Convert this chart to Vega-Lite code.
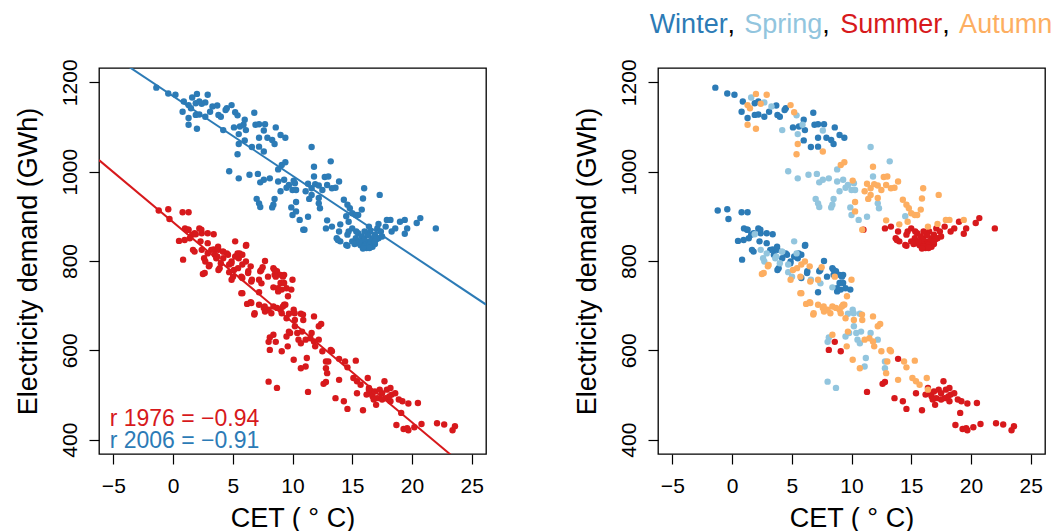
{
"$schema":"https://vega.github.io/schema/vega-lite/v6.json",
"background":"white",
"padding":{"left":13,"top":10,"right":2,"bottom":2},
"config":{
 "font":"Liberation Sans",
 "view":{"stroke":"#000","strokeWidth":1.3},
 "axis":{"domain":false,"grid":false,"ticks":true,"tickColor":"#000","tickSize":10,"tickWidth":1.2,"labelFont":"Liberation Sans","labelFontSize":21,"labelColor":"#000","titleFont":"Liberation Sans","titleFontSize":27,"titleFontWeight":"normal","titleColor":"#000"}
},
"datasets":{
"pts":[
{"cet":-1.2,"gwh":913,"year":"1976","season":"Winter"},{"cet":-0.4,"gwh":916,"year":"1976","season":"Winter"},{"cet":-0.3,"gwh":894,"year":"1976","season":"Winter"},{"cet":0.8,"gwh":909,"year":"1976","season":"Winter"},{"cet":1.3,"gwh":909,"year":"1976","season":"Winter"},{"cet":1.0,"gwh":873,"year":"1976","season":"Winter"},{"cet":1.3,"gwh":870,"year":"1976","season":"Winter"},{"cet":1.6,"gwh":859,"year":"1976","season":"Winter"},{"cet":2.2,"gwh":873,"year":"1976","season":"Winter"},{"cet":2.4,"gwh":862,"year":"1976","season":"Winter"},{"cet":2.9,"gwh":862,"year":"1976","season":"Winter"},{"cet":3.4,"gwh":860,"year":"1976","season":"Winter"},{"cet":0.5,"gwh":845,"year":"1976","season":"Winter"},{"cet":1.4,"gwh":851,"year":"1976","season":"Winter"},{"cet":2.3,"gwh":844,"year":"1976","season":"Winter"},{"cet":2.9,"gwh":840,"year":"1976","season":"Winter"},{"cet":1.8,"gwh":821,"year":"1976","season":"Winter"},{"cet":3.4,"gwh":826,"year":"1976","season":"Winter"},{"cet":3.8,"gwh":825,"year":"1976","season":"Winter"},{"cet":3.5,"gwh":814,"year":"1976","season":"Winter"},{"cet":4.5,"gwh":817,"year":"1976","season":"Winter"},{"cet":5.8,"gwh":814,"year":"1976","season":"Winter"},{"cet":6.1,"gwh":834,"year":"1976","season":"Winter"},{"cet":4.2,"gwh":806,"year":"1976","season":"Winter"},{"cet":4.9,"gwh":799,"year":"1976","season":"Winter"},{"cet":5.2,"gwh":810,"year":"1976","season":"Winter"},{"cet":5.5,"gwh":806,"year":"1976","season":"Winter"},{"cet":3.8,"gwh":780,"year":"1976","season":"Winter"},{"cet":5.8,"gwh":762,"year":"1976","season":"Winter"},{"cet":6.3,"gwh":777,"year":"1976","season":"Winter"},{"cet":7.3,"gwh":777,"year":"1976","season":"Winter"},{"cet":7.7,"gwh":800,"year":"1976","season":"Winter"},{"cet":7.2,"gwh":730,"year":"1976","season":"Winter"},{"cet":8.4,"gwh":784,"year":"1976","season":"Winter"},{"cet":8.5,"gwh":769,"year":"1976","season":"Winter"},{"cet":8.7,"gwh":777,"year":"1976","season":"Winter"},{"cet":9.0,"gwh":769,"year":"1976","season":"Winter"},{"cet":9.3,"gwh":769,"year":"1976","season":"Winter"},{"cet":9.0,"gwh":751,"year":"1976","season":"Winter"},{"cet":9.3,"gwh":751,"year":"1976","season":"Winter"},{"cet":8.8,"gwh":732,"year":"1976","season":"Winter"},{"cet":9.1,"gwh":736,"year":"1976","season":"Winter"},{"cet":9.5,"gwh":739,"year":"1976","season":"Winter"},{"cet":9.9,"gwh":736,"year":"1976","season":"Winter"},
{"cet":3.2,"gwh":825,"year":"1976","season":"Winter"},{"cet":3.77,"gwh":832,"year":"1976","season":"Winter"},{"cet":4.6,"gwh":814,"year":"1976","season":"Winter"},{"cet":3.9,"gwh":784,"year":"1976","season":"Winter"},{"cet":4.88,"gwh":795,"year":"1976","season":"Winter"},{"cet":6.28,"gwh":773,"year":"1976","season":"Winter"},{"cet":5.57,"gwh":817,"year":"1976","season":"Winter"},{"cet":6.13,"gwh":836,"year":"1976","season":"Winter"},{"cet":7.39,"gwh":780,"year":"1976","season":"Winter"},{"cet":7.95,"gwh":765,"year":"1976","season":"Winter"},{"cet":8.5,"gwh":780,"year":"1976","season":"Winter"},{"cet":9.2,"gwh":765,"year":"1976","season":"Winter"},{"cet":8.79,"gwh":739,"year":"1976","season":"Winter"},{"cet":1.81,"gwh":862,"year":"1976","season":"Winter"},{"cet":1.26,"gwh":870,"year":"1976","season":"Winter"},{"cet":2.37,"gwh":870,"year":"1976","season":"Winter"},{"cet":0.97,"gwh":847,"year":"1976","season":"Winter"},{"cet":1.67,"gwh":825,"year":"1976","season":"Winter"},{"cet":0.84,"gwh":803,"year":"1976","season":"Winter"},
{"cet":1.9,"gwh":860,"year":"1976","season":"Spring"},{"cet":2.4,"gwh":825,"year":"1976","season":"Spring"},{"cet":2.9,"gwh":817,"year":"1976","season":"Spring"},{"cet":4.2,"gwh":821,"year":"1976","season":"Spring"},{"cet":5.2,"gwh":844,"year":"1976","season":"Spring"},{"cet":5.4,"gwh":817,"year":"1976","season":"Spring"},{"cet":2.6,"gwh":806,"year":"1976","season":"Spring"},{"cet":2.7,"gwh":799,"year":"1976","season":"Spring"},{"cet":3.7,"gwh":810,"year":"1976","season":"Spring"},{"cet":4.0,"gwh":795,"year":"1976","season":"Spring"},{"cet":4.7,"gwh":792,"year":"1976","season":"Spring"},{"cet":4.7,"gwh":775,"year":"1976","season":"Spring"},{"cet":6.6,"gwh":758,"year":"1976","season":"Spring"},{"cet":7.4,"gwh":750,"year":"1976","season":"Spring"},{"cet":8.4,"gwh":741,"year":"1976","season":"Spring"},{"cet":9.7,"gwh":682,"year":"1976","season":"Spring"},{"cet":10.1,"gwh":691,"year":"1976","season":"Spring"},{"cet":10.2,"gwh":654,"year":"1976","season":"Spring"},{"cet":10.7,"gwh":682,"year":"1976","season":"Spring"},{"cet":8.1,"gwh":629,"year":"1976","season":"Spring"},{"cet":8.0,"gwh":619,"year":"1976","season":"Spring"},{"cet":9.5,"gwh":631,"year":"1976","season":"Spring"},{"cet":9.8,"gwh":639,"year":"1976","season":"Spring"},{"cet":10.4,"gwh":639,"year":"1976","season":"Spring"},{"cet":10.5,"gwh":624,"year":"1976","season":"Spring"},{"cet":10.7,"gwh":616,"year":"1976","season":"Spring"},{"cet":10.8,"gwh":642,"year":"1976","season":"Spring"},{"cet":11.6,"gwh":639,"year":"1976","season":"Spring"},{"cet":12.2,"gwh":624,"year":"1976","season":"Spring"},{"cet":11.1,"gwh":564,"year":"1976","season":"Spring"},{"cet":11.2,"gwh":583,"year":"1976","season":"Spring"},{"cet":12.8,"gwh":575,"year":"1976","season":"Spring"},{"cet":12.8,"gwh":560,"year":"1976","season":"Spring"},{"cet":8.0,"gwh":530,"year":"1976","season":"Spring"},{"cet":8.7,"gwh":516,"year":"1976","season":"Spring"},{"cet":4.18,"gwh":821,"year":"1976","season":"Spring"},{"cet":3.62,"gwh":806,"year":"1976","season":"Spring"},{"cet":5.02,"gwh":765,"year":"1976","season":"Spring"},{"cet":10.18,"gwh":683,"year":"1976","season":"Spring"},
{"cet":8.6,"gwh":619,"year":"1976","season":"Summer"},{"cet":8.1,"gwh":601,"year":"1976","season":"Summer"},{"cet":9.1,"gwh":598,"year":"1976","season":"Summer"},{"cet":13.9,"gwh":581,"year":"1976","season":"Summer"},{"cet":12.6,"gwh":525,"year":"1976","season":"Summer"},{"cet":12.8,"gwh":529,"year":"1976","season":"Summer"},{"cet":11.3,"gwh":507,"year":"1976","season":"Summer"},{"cet":13.6,"gwh":493,"year":"1976","season":"Summer"},{"cet":14.3,"gwh":486,"year":"1976","season":"Summer"},{"cet":14.6,"gwh":469,"year":"1976","season":"Summer"},{"cet":15.4,"gwh":504,"year":"1976","season":"Summer"},{"cet":15.9,"gwh":466,"year":"1976","season":"Summer"},{"cet":16.4,"gwh":516,"year":"1976","season":"Summer"},{"cet":16.5,"gwh":504,"year":"1976","season":"Summer"},{"cet":16.7,"gwh":497,"year":"1976","season":"Summer"},{"cet":16.9,"gwh":508,"year":"1976","season":"Summer"},{"cet":17.1,"gwh":493,"year":"1976","season":"Summer"},{"cet":17.0,"gwh":478,"year":"1976","season":"Summer"},{"cet":17.3,"gwh":512,"year":"1976","season":"Summer"},{"cet":17.5,"gwh":504,"year":"1976","season":"Summer"},{"cet":17.7,"gwh":531,"year":"1976","season":"Summer"},{"cet":17.8,"gwh":493,"year":"1976","season":"Summer"},{"cet":17.9,"gwh":512,"year":"1976","season":"Summer"},{"cet":18.2,"gwh":516,"year":"1976","season":"Summer"},{"cet":18.2,"gwh":486,"year":"1976","season":"Summer"},{"cet":18.3,"gwh":501,"year":"1976","season":"Summer"},{"cet":18.6,"gwh":504,"year":"1976","season":"Summer"},{"cet":18.9,"gwh":490,"year":"1976","season":"Summer"},{"cet":19.2,"gwh":486,"year":"1976","season":"Summer"},{"cet":19.7,"gwh":481,"year":"1976","season":"Summer"},{"cet":20.5,"gwh":482,"year":"1976","season":"Summer"},{"cet":19.1,"gwh":460,"year":"1976","season":"Summer"},{"cet":18.7,"gwh":433,"year":"1976","season":"Summer"},{"cet":19.3,"gwh":424,"year":"1976","season":"Summer"},{"cet":19.6,"gwh":426,"year":"1976","season":"Summer"},{"cet":19.7,"gwh":421,"year":"1976","season":"Summer"},{"cet":20.2,"gwh":428,"year":"1976","season":"Summer"},{"cet":20.8,"gwh":435,"year":"1976","season":"Summer"},{"cet":22.1,"gwh":437,"year":"1976","season":"Summer"},{"cet":22.7,"gwh":434,"year":"1976","season":"Summer"},{"cet":23.4,"gwh":421,"year":"1976","season":"Summer"},{"cet":23.6,"gwh":430,"year":"1976","season":"Summer"},{"cet":16.2,"gwh":501,"year":"1976","season":"Summer"},{"cet":16.8,"gwh":490,"year":"1976","season":"Summer"},{"cet":17.5,"gwh":490,"year":"1976","season":"Summer"},{"cet":18.1,"gwh":497,"year":"1976","season":"Summer"},
{"cet":5.8,"gwh":792,"year":"1976","season":"Autumn"},{"cet":6.1,"gwh":799,"year":"1976","season":"Autumn"},{"cet":3.0,"gwh":788,"year":"1976","season":"Autumn"},{"cet":2.5,"gwh":771,"year":"1976","season":"Autumn"},{"cet":4.9,"gwh":758,"year":"1976","season":"Autumn"},{"cet":5.1,"gwh":780,"year":"1976","season":"Autumn"},{"cet":6.5,"gwh":788,"year":"1976","season":"Autumn"},{"cet":7.2,"gwh":758,"year":"1976","season":"Autumn"},{"cet":7.5,"gwh":786,"year":"1976","season":"Autumn"},{"cet":8.6,"gwh":765,"year":"1976","season":"Autumn"},{"cet":10.0,"gwh":758,"year":"1976","season":"Autumn"},{"cet":5.8,"gwh":728,"year":"1976","season":"Autumn"},{"cet":6.2,"gwh":704,"year":"1976","season":"Autumn"},{"cet":6.5,"gwh":708,"year":"1976","season":"Autumn"},{"cet":6.8,"gwh":680,"year":"1976","season":"Autumn"},{"cet":7.2,"gwh":702,"year":"1976","season":"Autumn"},{"cet":7.6,"gwh":695,"year":"1976","season":"Autumn"},{"cet":7.7,"gwh":687,"year":"1976","season":"Autumn"},{"cet":8.0,"gwh":691,"year":"1976","season":"Autumn"},{"cet":8.4,"gwh":698,"year":"1976","season":"Autumn"},{"cet":8.7,"gwh":695,"year":"1976","season":"Autumn"},{"cet":9.0,"gwh":691,"year":"1976","season":"Autumn"},{"cet":9.1,"gwh":683,"year":"1976","season":"Autumn"},{"cet":9.3,"gwh":702,"year":"1976","season":"Autumn"},{"cet":9.4,"gwh":702,"year":"1976","season":"Autumn"},{"cet":9.5,"gwh":672,"year":"1976","season":"Autumn"},{"cet":10.2,"gwh":668,"year":"1976","season":"Autumn"},{"cet":10.9,"gwh":668,"year":"1976","season":"Autumn"},{"cet":11.8,"gwh":676,"year":"1976","season":"Autumn"},{"cet":12.2,"gwh":654,"year":"1976","season":"Autumn"},{"cet":12.4,"gwh":659,"year":"1976","season":"Autumn"},{"cet":8.4,"gwh":635,"year":"1976","season":"Autumn"},{"cet":9.7,"gwh":642,"year":"1976","season":"Autumn"},{"cet":11.1,"gwh":624,"year":"1976","season":"Autumn"},{"cet":11.5,"gwh":627,"year":"1976","season":"Autumn"},{"cet":11.8,"gwh":620,"year":"1976","season":"Autumn"},{"cet":11.9,"gwh":609,"year":"1976","season":"Autumn"},{"cet":9.6,"gwh":609,"year":"1976","season":"Autumn"},{"cet":10.1,"gwh":579,"year":"1976","season":"Autumn"},{"cet":10.7,"gwh":560,"year":"1976","season":"Autumn"},{"cet":12.5,"gwh":598,"year":"1976","season":"Autumn"},{"cet":12.9,"gwh":549,"year":"1976","season":"Autumn"},{"cet":13.2,"gwh":601,"year":"1976","season":"Autumn"},{"cet":13.3,"gwh":598,"year":"1976","season":"Autumn"},{"cet":13.0,"gwh":575,"year":"1976","season":"Autumn"},{"cet":14.4,"gwh":575,"year":"1976","season":"Autumn"},{"cet":14.6,"gwh":562,"year":"1976","season":"Autumn"},{"cet":15.3,"gwh":577,"year":"1976","season":"Autumn"},{"cet":13.9,"gwh":534,"year":"1976","season":"Autumn"},{"cet":15.1,"gwh":538,"year":"1976","season":"Autumn"},{"cet":15.4,"gwh":531,"year":"1976","season":"Autumn"},{"cet":16.3,"gwh":538,"year":"1976","season":"Autumn"},{"cet":15.7,"gwh":523,"year":"1976","season":"Autumn"},{"cet":16.4,"gwh":512,"year":"1976","season":"Autumn"},
{"cet":3.06,"gwh":791,"year":"1976","season":"Autumn"},{"cet":2.65,"gwh":773,"year":"1976","season":"Autumn"},{"cet":5.44,"gwh":784,"year":"1976","season":"Autumn"},{"cet":5.72,"gwh":765,"year":"1976","season":"Autumn"},{"cet":6.55,"gwh":754,"year":"1976","season":"Autumn"},{"cet":9.62,"gwh":721,"year":"1976","season":"Autumn"},{"cet":9.2,"gwh":698,"year":"1976","season":"Autumn"},{"cet":7.67,"gwh":698,"year":"1976","season":"Autumn"},{"cet":6.55,"gwh":706,"year":"1976","season":"Autumn"},{"cet":5.72,"gwh":728,"year":"1976","season":"Autumn"},{"cet":6.83,"gwh":683,"year":"1976","season":"Autumn"},{"cet":8.23,"gwh":683,"year":"1976","season":"Autumn"},{"cet":10.88,"gwh":680,"year":"1976","season":"Autumn"},
{"cet":-1.4,"gwh":1188,"year":"2006","season":"Winter"},{"cet":-0.4,"gwh":1175,"year":"2006","season":"Winter"},{"cet":0.2,"gwh":1172,"year":"2006","season":"Winter"},{"cet":0.9,"gwh":1157,"year":"2006","season":"Winter"},{"cet":1.9,"gwh":1153,"year":"2006","season":"Winter"},{"cet":2.2,"gwh":1157,"year":"2006","season":"Winter"},{"cet":3.7,"gwh":1148,"year":"2006","season":"Winter"},{"cet":0.8,"gwh":1134,"year":"2006","season":"Winter"},{"cet":1.3,"gwh":1120,"year":"2006","season":"Winter"},{"cet":1.9,"gwh":1127,"year":"2006","season":"Winter"},{"cet":2.2,"gwh":1128,"year":"2006","season":"Winter"},{"cet":2.7,"gwh":1123,"year":"2006","season":"Winter"},{"cet":3.1,"gwh":1134,"year":"2006","season":"Winter"},{"cet":3.8,"gwh":1127,"year":"2006","season":"Winter"},{"cet":4.0,"gwh":1123,"year":"2006","season":"Winter"},{"cet":4.4,"gwh":1138,"year":"2006","season":"Winter"},{"cet":4.5,"gwh":1142,"year":"2006","season":"Winter"},{"cet":6.0,"gwh":1116,"year":"2006","season":"Winter"},{"cet":6.8,"gwh":1132,"year":"2006","season":"Winter"},{"cet":5.1,"gwh":1099,"year":"2006","season":"Winter"},{"cet":5.6,"gwh":1101,"year":"2006","season":"Winter"},{"cet":6.1,"gwh":1093,"year":"2006","season":"Winter"},{"cet":6.9,"gwh":1105,"year":"2006","season":"Winter"},{"cet":7.2,"gwh":1106,"year":"2006","season":"Winter"},{"cet":7.7,"gwh":1106,"year":"2006","season":"Winter"},{"cet":8.6,"gwh":1099,"year":"2006","season":"Winter"},{"cet":6.0,"gwh":1070,"year":"2006","season":"Winter"},{"cet":6.6,"gwh":1055,"year":"2006","season":"Winter"},{"cet":7.2,"gwh":1076,"year":"2006","season":"Winter"},{"cet":7.2,"gwh":1056,"year":"2006","season":"Winter"},{"cet":7.9,"gwh":1076,"year":"2006","season":"Winter"},{"cet":8.3,"gwh":1071,"year":"2006","season":"Winter"},{"cet":8.5,"gwh":1062,"year":"2006","season":"Winter"},{"cet":9.0,"gwh":1082,"year":"2006","season":"Winter"},{"cet":9.4,"gwh":1076,"year":"2006","season":"Winter"},
{"cet":1.6,"gwh":1166,"year":"2006","season":"Spring"},{"cet":2.7,"gwh":1155,"year":"2006","season":"Spring"},{"cet":3.3,"gwh":1146,"year":"2006","season":"Spring"},{"cet":5.4,"gwh":1126,"year":"2006","season":"Spring"},{"cet":4.2,"gwh":1093,"year":"2006","season":"Spring"},{"cet":5.5,"gwh":1084,"year":"2006","season":"Spring"},{"cet":5.9,"gwh":1105,"year":"2006","season":"Spring"},{"cet":7.6,"gwh":1092,"year":"2006","season":"Spring"},{"cet":11.6,"gwh":1055,"year":"2006","season":"Spring"},{"cet":13.2,"gwh":1023,"year":"2006","season":"Spring"},{"cet":4.7,"gwh":1001,"year":"2006","season":"Spring"},{"cet":5.5,"gwh":985,"year":"2006","season":"Spring"},{"cet":6.4,"gwh":993,"year":"2006","season":"Spring"},{"cet":7.1,"gwh":995,"year":"2006","season":"Spring"},{"cet":7.3,"gwh":976,"year":"2006","season":"Spring"},{"cet":7.6,"gwh":982,"year":"2006","season":"Spring"},{"cet":8.1,"gwh":985,"year":"2006","season":"Spring"},{"cet":8.8,"gwh":1005,"year":"2006","season":"Spring"},{"cet":8.8,"gwh":978,"year":"2006","season":"Spring"},{"cet":9.3,"gwh":982,"year":"2006","season":"Spring"},{"cet":9.5,"gwh":964,"year":"2006","season":"Spring"},{"cet":9.7,"gwh":970,"year":"2006","season":"Spring"},{"cet":10.0,"gwh":959,"year":"2006","season":"Spring"},{"cet":10.3,"gwh":959,"year":"2006","season":"Spring"},{"cet":9.0,"gwh":956,"year":"2006","season":"Spring"},{"cet":10.2,"gwh":974,"year":"2006","season":"Spring"},{"cet":11.8,"gwh":989,"year":"2006","season":"Spring"},{"cet":7.0,"gwh":939,"year":"2006","season":"Spring"},{"cet":7.2,"gwh":929,"year":"2006","season":"Spring"},{"cet":7.3,"gwh":921,"year":"2006","season":"Spring"},{"cet":8.5,"gwh":939,"year":"2006","season":"Spring"},{"cet":8.4,"gwh":926,"year":"2006","season":"Spring"},{"cet":8.3,"gwh":920,"year":"2006","season":"Spring"},{"cet":9.9,"gwh":920,"year":"2006","season":"Spring"},{"cet":10.0,"gwh":903,"year":"2006","season":"Spring"},{"cet":10.6,"gwh":892,"year":"2006","season":"Spring"},{"cet":11.3,"gwh":899,"year":"2006","season":"Spring"},{"cet":12.2,"gwh":929,"year":"2006","season":"Spring"},{"cet":12.3,"gwh":918,"year":"2006","season":"Spring"},{"cet":14.5,"gwh":900,"year":"2006","season":"Spring"},
{"cet":11.0,"gwh":870,"year":"2006","season":"Summer"},{"cet":12.8,"gwh":873,"year":"2006","season":"Summer"},{"cet":13.3,"gwh":877,"year":"2006","season":"Summer"},{"cet":13.9,"gwh":866,"year":"2006","season":"Summer"},{"cet":13.7,"gwh":851,"year":"2006","season":"Summer"},{"cet":14.0,"gwh":844,"year":"2006","season":"Summer"},{"cet":14.6,"gwh":859,"year":"2006","season":"Summer"},{"cet":14.7,"gwh":866,"year":"2006","season":"Summer"},{"cet":15.0,"gwh":873,"year":"2006","season":"Summer"},{"cet":14.6,"gwh":834,"year":"2006","season":"Summer"},{"cet":15.3,"gwh":851,"year":"2006","season":"Summer"},{"cet":15.5,"gwh":862,"year":"2006","season":"Summer"},{"cet":15.8,"gwh":855,"year":"2006","season":"Summer"},{"cet":16.0,"gwh":844,"year":"2006","season":"Summer"},{"cet":16.1,"gwh":836,"year":"2006","season":"Summer"},{"cet":16.2,"gwh":829,"year":"2006","season":"Summer"},{"cet":16.5,"gwh":866,"year":"2006","season":"Summer"},{"cet":16.7,"gwh":851,"year":"2006","season":"Summer"},{"cet":16.8,"gwh":840,"year":"2006","season":"Summer"},{"cet":16.9,"gwh":859,"year":"2006","season":"Summer"},{"cet":17.1,"gwh":873,"year":"2006","season":"Summer"},{"cet":17.4,"gwh":866,"year":"2006","season":"Summer"},{"cet":17.5,"gwh":855,"year":"2006","season":"Summer"},{"cet":17.8,"gwh":877,"year":"2006","season":"Summer"},{"cet":18.3,"gwh":866,"year":"2006","season":"Summer"},{"cet":18.6,"gwh":873,"year":"2006","season":"Summer"},{"cet":19.0,"gwh":888,"year":"2006","season":"Summer"},{"cet":19.4,"gwh":861,"year":"2006","season":"Summer"},{"cet":19.6,"gwh":873,"year":"2006","season":"Summer"},{"cet":20.4,"gwh":885,"year":"2006","season":"Summer"},{"cet":20.7,"gwh":896,"year":"2006","season":"Summer"},{"cet":22.0,"gwh":873,"year":"2006","season":"Summer"},{"cet":15.5,"gwh":840,"year":"2006","season":"Summer"},{"cet":16.4,"gwh":844,"year":"2006","season":"Summer"},{"cet":16.7,"gwh":832,"year":"2006","season":"Summer"},{"cet":15.0,"gwh":844,"year":"2006","season":"Summer"},{"cet":17.2,"gwh":851,"year":"2006","season":"Summer"},{"cet":16.0,"gwh":850,"year":"2006","season":"Summer"},{"cet":16.3,"gwh":858,"year":"2006","season":"Summer"},{"cet":16.6,"gwh":845,"year":"2006","season":"Summer"},{"cet":15.7,"gwh":835,"year":"2006","season":"Summer"},{"cet":16.9,"gwh":838,"year":"2006","season":"Summer"},{"cet":17.0,"gwh":848,"year":"2006","season":"Summer"},{"cet":16.4,"gwh":836,"year":"2006","season":"Summer"},{"cet":15.2,"gwh":838,"year":"2006","season":"Summer"},{"cet":15.34,"gwh":866,"year":"2006","season":"Summer"},{"cet":15.6,"gwh":844,"year":"2006","season":"Summer"},{"cet":16.03,"gwh":832,"year":"2006","season":"Summer"},{"cet":16.32,"gwh":859,"year":"2006","season":"Summer"},{"cet":16.87,"gwh":844,"year":"2006","season":"Summer"},{"cet":16.45,"gwh":829,"year":"2006","season":"Summer"},{"cet":16.03,"gwh":866,"year":"2006","season":"Summer"},{"cet":14.5,"gwh":836,"year":"2006","season":"Summer"},{"cet":13.8,"gwh":847,"year":"2006","season":"Summer"},{"cet":15.9,"gwh":828,"year":"2006","season":"Summer"},
{"cet":2.0,"gwh":1174,"year":"2006","season":"Autumn"},{"cet":2.9,"gwh":1172,"year":"2006","season":"Autumn"},{"cet":1.3,"gwh":1149,"year":"2006","season":"Autumn"},{"cet":1.5,"gwh":1142,"year":"2006","season":"Autumn"},{"cet":2.4,"gwh":1152,"year":"2006","season":"Autumn"},{"cet":4.9,"gwh":1149,"year":"2006","season":"Autumn"},{"cet":5.2,"gwh":1133,"year":"2006","season":"Autumn"},{"cet":1.3,"gwh":1105,"year":"2006","season":"Autumn"},{"cet":2.0,"gwh":1096,"year":"2006","season":"Autumn"},{"cet":5.5,"gwh":1062,"year":"2006","season":"Autumn"},{"cet":5.4,"gwh":1039,"year":"2006","season":"Autumn"},{"cet":7.6,"gwh":1045,"year":"2006","season":"Autumn"},{"cet":9.1,"gwh":1015,"year":"2006","season":"Autumn"},{"cet":9.4,"gwh":1021,"year":"2006","season":"Autumn"},{"cet":10.1,"gwh":980,"year":"2006","season":"Autumn"},{"cet":11.8,"gwh":1011,"year":"2006","season":"Autumn"},{"cet":11.3,"gwh":973,"year":"2006","season":"Autumn"},{"cet":11.6,"gwh":963,"year":"2006","season":"Autumn"},{"cet":11.9,"gwh":972,"year":"2006","season":"Autumn"},{"cet":12.2,"gwh":969,"year":"2006","season":"Autumn"},{"cet":12.5,"gwh":959,"year":"2006","season":"Autumn"},{"cet":12.7,"gwh":988,"year":"2006","season":"Autumn"},{"cet":13.0,"gwh":989,"year":"2006","season":"Autumn"},{"cet":12.9,"gwh":970,"year":"2006","season":"Autumn"},{"cet":13.3,"gwh":963,"year":"2006","season":"Autumn"},{"cet":13.9,"gwh":978,"year":"2006","season":"Autumn"},{"cet":13.6,"gwh":964,"year":"2006","season":"Autumn"},{"cet":11.1,"gwh":956,"year":"2006","season":"Autumn"},{"cet":11.6,"gwh":948,"year":"2006","season":"Autumn"},{"cet":12.2,"gwh":941,"year":"2006","season":"Autumn"},{"cet":11.4,"gwh":939,"year":"2006","season":"Autumn"},{"cet":10.3,"gwh":932,"year":"2006","season":"Autumn"},{"cet":16.0,"gwh":963,"year":"2006","season":"Autumn"},{"cet":15.9,"gwh":940,"year":"2006","season":"Autumn"},{"cet":17.3,"gwh":948,"year":"2006","season":"Autumn"},{"cet":14.3,"gwh":937,"year":"2006","season":"Autumn"},{"cet":14.6,"gwh":926,"year":"2006","season":"Autumn"},{"cet":14.8,"gwh":918,"year":"2006","season":"Autumn"},{"cet":15.0,"gwh":907,"year":"2006","season":"Autumn"},{"cet":15.3,"gwh":903,"year":"2006","season":"Autumn"},{"cet":15.5,"gwh":903,"year":"2006","season":"Autumn"},{"cet":15.8,"gwh":915,"year":"2006","season":"Autumn"},{"cet":12.9,"gwh":891,"year":"2006","season":"Autumn"},{"cet":14.0,"gwh":882,"year":"2006","season":"Autumn"},{"cet":14.7,"gwh":888,"year":"2006","season":"Autumn"},{"cet":10.9,"gwh":870,"year":"2006","season":"Autumn"},{"cet":10.3,"gwh":911,"year":"2006","season":"Autumn"},{"cet":16.4,"gwh":877,"year":"2006","season":"Autumn"},{"cet":17.2,"gwh":883,"year":"2006","season":"Autumn"},{"cet":17.9,"gwh":892,"year":"2006","season":"Autumn"},{"cet":18.2,"gwh":892,"year":"2006","season":"Autumn"},{"cet":19.4,"gwh":892,"year":"2006","season":"Autumn"}
],
"fits":[
{"year":"1976","cet":-6.2,"gwh":1025.9},{"year":"1976","cet":26.2,"gwh":300.1},
{"year":"2006","cet":-6.2,"gwh":1279.3},{"year":"2006","cet":26.2,"gwh":702.5}
],
"rlab":[
{"year":"1976","label":"r 1976 = −0.94","cet":-5.31,"gwh":429.8},
{"year":"2006","label":"r 2006 = −0.91","cet":-5.31,"gwh":381.2}
],
"words":[
{"season":"Winter","word":"Winter","cet":-6.9,"gwh":1309.6},
{"season":"Spring","word":"Spring","cet":1.02,"gwh":1309.6},
{"season":"Summer","word":"Summer","cet":9.05,"gwh":1309.6},
{"season":"Autumn","word":"Autumn","cet":19.01,"gwh":1309.6}
],
"commas":[
{"word":",","cet":-0.38,"gwh":1309.6},
{"word":",","cet":7.55,"gwh":1309.6},
{"word":",","cet":17.59,"gwh":1309.6}
]
},
"bounds":"flush",
"spacing":172,
"resolve":{"scale":{"color":"independent"}},
"hconcat":[
{
 "width":387,"height":386,
 "encoding":{
  "x":{"field":"cet","type":"quantitative","scale":{"domain":[-6.2,26.2],"nice":false,"zero":false},"axis":{"values":[-5,0,5,10,15,20,25],"title":"CET ( ° C)","labelPadding":11,"titlePadding":9,"labelFlush":false}},
  "y":{"field":"gwh","type":"quantitative","scale":{"domain":[368,1232],"nice":false,"zero":false},"axis":{"values":[400,600,800,1000,1200],"format":"d","title":"Electricity demand (GWh)","labelAngle":270,"labelAlign":"center","labelBaseline":"alphabetic","labelPadding":13,"titlePadding":17,"labelFlush":false}}
 },
 "layer":[
  {"data":{"name":"pts"},"mark":{"type":"circle","size":41,"opacity":1},
   "encoding":{"color":{"field":"year","type":"nominal","scale":{"domain":["1976","2006"],"range":["#D7191C","#2C7BB6"]},"legend":null}}},
  {"data":{"name":"fits"},"mark":{"type":"line","clip":true,"strokeWidth":2},
   "encoding":{"color":{"field":"year","type":"nominal","scale":{"domain":["1976","2006"],"range":["#D7191C","#2C7BB6"]},"legend":null}}},
  {"data":{"name":"rlab"},"mark":{"type":"text","align":"left","baseline":"alphabetic","fontSize":23},
   "encoding":{"text":{"field":"label"},"color":{"field":"year","type":"nominal","scale":{"domain":["1976","2006"],"range":["#D7191C","#2C7BB6"]},"legend":null}}}
 ]
},
{
 "width":387,"height":386,
 "encoding":{
  "x":{"field":"cet","type":"quantitative","scale":{"domain":[-6.2,26.2],"nice":false,"zero":false},"axis":{"values":[-5,0,5,10,15,20,25],"title":"CET ( ° C)","labelPadding":11,"titlePadding":9,"labelFlush":false}},
  "y":{"field":"gwh","type":"quantitative","scale":{"domain":[368,1232],"nice":false,"zero":false},"axis":{"values":[400,600,800,1000,1200],"format":"d","title":"Electricity demand (GWh)","labelAngle":270,"labelAlign":"center","labelBaseline":"alphabetic","labelPadding":13,"titlePadding":17,"labelFlush":false}}
 },
 "layer":[
  {"data":{"name":"pts"},"mark":{"type":"circle","size":41,"opacity":1},
   "encoding":{"color":{"field":"season","type":"nominal","scale":{"domain":["Winter","Spring","Summer","Autumn"],"range":["#2C7BB6","#92C5DE","#D7191C","#FDAE61"]},"legend":null}}},
  {"data":{"name":"words"},"mark":{"type":"text","align":"left","baseline":"alphabetic","fontSize":27},
   "encoding":{"text":{"field":"word"},"color":{"field":"season","type":"nominal","scale":{"domain":["Winter","Spring","Summer","Autumn"],"range":["#2C7BB6","#92C5DE","#D7191C","#FDAE61"]},"legend":null}}},
  {"data":{"name":"commas"},"mark":{"type":"text","align":"left","baseline":"alphabetic","fontSize":27,"color":"#000"},
   "encoding":{"text":{"field":"word"}}}
 ]
}
]
}
